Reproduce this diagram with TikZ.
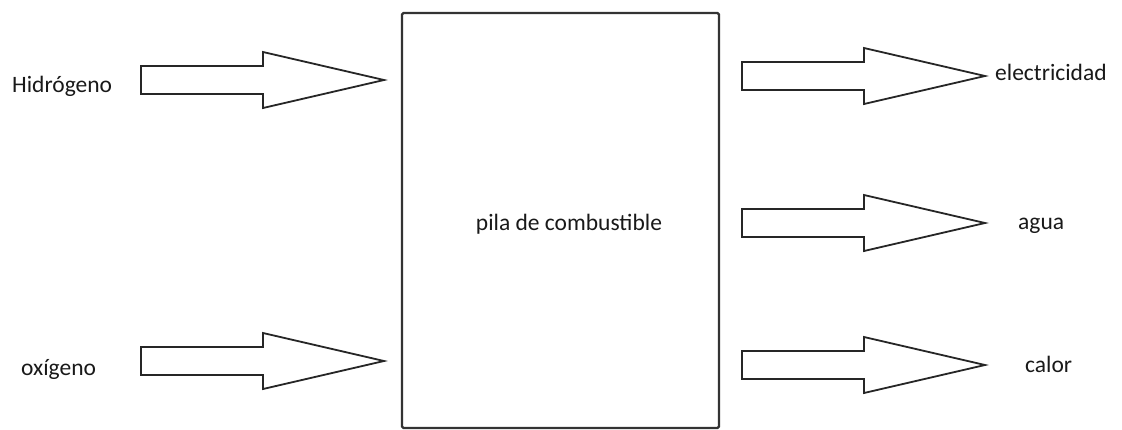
\documentclass[tikz,border=0pt]{standalone}
\usepackage{fontspec}
\setmainfont{Carlito}
\begin{document}
\begin{tikzpicture}[x=1pt,y=-1pt,
  arrowline/.style={draw=black!85,line width=1.8pt,line join=miter,fill=white},
  boxline/.style={draw=black!80,line width=2.2pt,rounded corners=1.5pt},
  lbl/.style={inner sep=0pt,anchor=base west,text=black!90,font=\fontsize{23.5}{28}\selectfont},
  barrow/.pic={\path[arrowline] (0,-14) -- (122,-14) -- (122,-28) -- (243,0) -- (122,28) -- (122,14) -- (0,14) -- cycle;}]
\useasboundingbox (0,0) rectangle (1122,429);
% main box
\node[boxline,minimum width=317pt,minimum height=415pt,inner sep=0pt] (pila) at (560.5,220.5) {};
\node[inner sep=0pt,font=\fontsize{23.5}{28}\selectfont,text=black!90] (pilatxt) at (569,224) {pila de combustible};
% input arrows
\pic (ah) at (141,80) {barrow};
\pic (ao) at (141,361) {barrow};
% output arrows
\pic (ae) at (742,76) {barrow};
\pic (aa) at (742,223) {barrow};
\pic (ac) at (742,365) {barrow};
% labels
\node[lbl] (hid) at (12,92) {Hidrógeno};
\node[lbl] (oxi) at (21,375) {oxígeno};
\node[lbl] (ele) at (995,80) {electricidad};
\node[lbl] (agu) at (1018,229) {agua};
\node[lbl] (cal) at (1025,372) {calor};
\end{tikzpicture}
\end{document}
